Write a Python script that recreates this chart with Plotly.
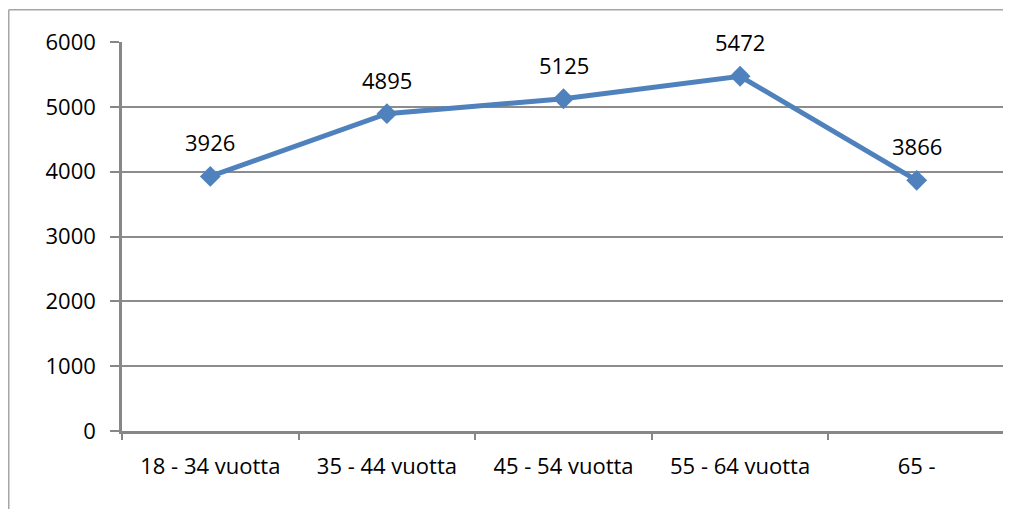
import plotly.graph_objects as go

categories = ["18 - 34 vuotta", "35 - 44 vuotta", "45 - 54 vuotta", "55 - 64 vuotta", "65 -"]
values = [3926, 4895, 5125, 5472, 3866]
y_ticks = [0, 1000, 2000, 3000, 4000, 5000, 6000]

W, H = 1011, 509
OFF = 8  # page body margin
ml, mt = 122 - OFF, 42 - OFF
mr = W - (1005 - OFF)
mb = H - (431 - OFF)
pw, ph = W - ml - mr, H - mt - mb

font = dict(family="Open Sans, Noto Sans, sans-serif", size=22, color="#000000")

fig = go.Figure()
fig.add_trace(go.Scatter(
    x=categories, y=values, mode="lines+markers",
    line=dict(color="#4F81BD", width=5),
    marker=dict(symbol="diamond", size=16, color="#4F81BD"),
    hoverinfo="x+y",
))

for c, v in zip(categories, values):
    fig.add_annotation(x=c, y=v, text=str(v), showarrow=False, yshift=34,
                       font=font)

# chart border (left and top edges visible)
bx = 8 - OFF
by = 9 - OFF
fig.add_shape(type="line", xref="paper", yref="paper",
              x0=(bx + 0.75 - ml) / pw, x1=(W + 10 - ml) / pw,
              y0=1 + (mt - by - 0.75) / ph, y1=1 + (mt - by - 0.75) / ph,
              line=dict(color="#A6A6A6", width=1.5))
fig.add_shape(type="line", xref="paper", yref="paper",
              x0=(bx + 0.75 - ml) / pw, x1=(bx + 0.75 - ml) / pw,
              y0=1 + (mt - by - 0.75) / ph, y1=-(mb + 10) / ph,
              line=dict(color="#A6A6A6", width=1.5))

fig.update_layout(
    width=W, height=H,
    margin=dict(l=ml, r=mr, t=mt, b=mb),
    paper_bgcolor="white", plot_bgcolor="white",
    showlegend=False,
    font=font,
    xaxis=dict(
        type="category", range=[-0.5, 4.5], automargin=False,
        showline=True, linecolor="#878787", linewidth=2.5,
        ticks="outside", tickson="boundaries", ticklen=6, tickcolor="#878787", tickwidth=1.5,
        showgrid=False, tickfont=font, ticklabelstandoff=14,
    ),
    yaxis=dict(
        range=[0, 6000], tickvals=y_ticks, automargin=False,
        showline=True, linecolor="#878787", linewidth=2.5,
        ticks="outside", ticklen=9, tickcolor="#878787", tickwidth=1.5,
        showgrid=True, gridcolor="#8C8C8C", gridwidth=1.5,
        zeroline=False, tickfont=font, ticklabelstandoff=10,
    ),
)

fig.write_html("out.html")
